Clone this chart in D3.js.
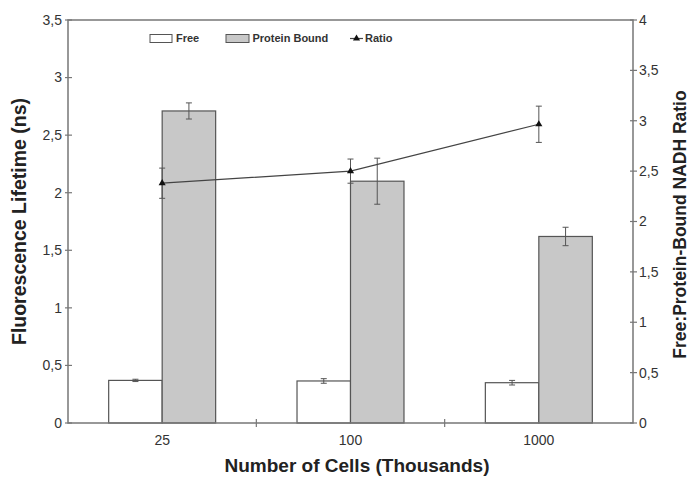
<!DOCTYPE html>
<html>
<head>
<meta charset="utf-8">
<script src="https://cdn.jsdelivr.net/npm/d3@7"></script>
<style>
  body { margin: 0; background: #fff; }
  text { font-family: "Liberation Sans", Arial, sans-serif; }
</style>
</head>
<body>
<svg id="chart"></svg>
<script>
const categories = ["25", "100", "1000"]
const series = ["Free", "Protein Bound"]
const freeValues = [0.37, 0.365, 0.35]
const freeErrors = [0.01, 0.02, 0.02]
const boundValues = [2.71, 2.10, 1.62]
const boundErrors = [0.07, 0.2, 0.08]
const ratioValues = [2.38, 2.50, 2.965]
const ratioErrors = [0.15, 0.12, 0.18]
const leftTicks = [0, 0.5, 1, 1.5, 2, 2.5, 3, 3.5]
const rightTicks = [0, 0.5, 1, 1.5, 2, 2.5, 3, 3.5, 4]

const width = 691
const height = 478
const margin = { top: 20, right: 58, bottom: 55, left: 68 }
const axisColor = "#777"
const markColor = "#555"

const svg = d3.select("#chart").attr("width", width).attr("height", height)

const x = d3.scaleBand().domain(categories).range([margin.left, width - margin.right])
const bw = x.bandwidth()
const xs = d3.scaleBand().domain(series).range([bw * 0.216, bw * 0.784])
const y = d3.scaleLinear().domain([0, 3.5]).range([height - margin.bottom, margin.top])
const y2 = d3.scaleLinear().domain([0, 4]).range([height - margin.bottom, margin.top])

const fmt = v => String(v).replace(".", ",")

// bars
const barData = categories.map((c, i) => [
  { cat: c, key: "Free", v: freeValues[i], e: freeErrors[i], fill: "#fff" },
  { cat: c, key: "Protein Bound", v: boundValues[i], e: boundErrors[i], fill: "#c8c8c8" }
]).flat()

svg.append("g").selectAll("rect")
  .data(barData)
  .join("rect")
  .attr("x", d => x(d.cat) + xs(d.key))
  .attr("y", d => y(d.v))
  .attr("width", xs.bandwidth())
  .attr("height", d => y(0) - y(d.v))
  .attr("fill", d => d.fill)
  .attr("stroke", markColor)
  .attr("stroke-width", 1.2)

// bar error bars
const errG = svg.append("g").attr("stroke", markColor).attr("stroke-width", 1)
barData.forEach(d => {
  const cx = x(d.cat) + xs(d.key) + xs.bandwidth() / 2
  errG.append("line").attr("x1", cx).attr("x2", cx).attr("y1", y(d.v + d.e)).attr("y2", y(d.v - d.e))
  errG.append("line").attr("x1", cx - 3).attr("x2", cx + 3).attr("y1", y(d.v + d.e)).attr("y2", y(d.v + d.e))
  errG.append("line").attr("x1", cx - 3).attr("x2", cx + 3).attr("y1", y(d.v - d.e)).attr("y2", y(d.v - d.e))
})

// ratio line
const ratioData = categories.map((c, i) => ({ cat: c, v: ratioValues[i], e: ratioErrors[i] }))
const cxr = d => x(d.cat) + bw / 2

ratioData.forEach(d => {
  errG.append("line").attr("x1", cxr(d)).attr("x2", cxr(d)).attr("y1", y2(d.v + d.e)).attr("y2", y2(d.v - d.e))
  errG.append("line").attr("x1", cxr(d) - 3).attr("x2", cxr(d) + 3).attr("y1", y2(d.v + d.e)).attr("y2", y2(d.v + d.e))
  errG.append("line").attr("x1", cxr(d) - 3).attr("x2", cxr(d) + 3).attr("y1", y2(d.v - d.e)).attr("y2", y2(d.v - d.e))
})

svg.append("path")
  .datum(ratioData)
  .attr("fill", "none")
  .attr("stroke", "#444")
  .attr("stroke-width", 1.2)
  .attr("d", d3.line().x(cxr).y(d => y2(d.v)))

const tri = d3.symbol().type(d3.symbolTriangle).size(22)
svg.append("g").selectAll("path")
  .data(ratioData)
  .join("path")
  .attr("d", tri)
  .attr("transform", d => `translate(${cxr(d)},${y2(d.v)})`)
  .attr("fill", "#111")

// frame
const x0 = margin.left, x1 = width - margin.right
const yT = margin.top, yB = height - margin.bottom
svg.append("path")
  .attr("d", `M${x0},${yT}H${x1}V${yB}H${x0}Z`)
  .attr("fill", "none")
  .attr("stroke", axisColor)
  .attr("stroke-width", 1.5)

// left axis
const leftAxis = svg.append("g")
leftAxis.selectAll("line").data(leftTicks).join("line")
  .attr("x1", x0 - 3).attr("x2", x0 + 4)
  .attr("y1", d => y(d)).attr("y2", d => y(d))
  .attr("stroke", axisColor).attr("stroke-width", 1.2)
leftAxis.selectAll("text").data(leftTicks).join("text")
  .attr("x", x0 - 6).attr("y", d => y(d)).attr("dy", "0.35em")
  .attr("text-anchor", "end")
  .attr("font-size", 14).attr("fill", "#333")
  .text(fmt)

// right axis
const rightAxis = svg.append("g")
rightAxis.selectAll("line").data(rightTicks).join("line")
  .attr("x1", x1 - 3).attr("x2", x1 + 4)
  .attr("y1", d => y2(d)).attr("y2", d => y2(d))
  .attr("stroke", axisColor).attr("stroke-width", 1.2)
rightAxis.selectAll("text").data(rightTicks).join("text")
  .attr("x", x1 + 6).attr("y", d => y2(d)).attr("dy", "0.35em")
  .attr("text-anchor", "start")
  .attr("font-size", 14).attr("fill", "#333")
  .text(fmt)

// x axis ticks at category boundaries, labels at centres
const bounds = categories.slice(0, -1).map(c => x(c) + bw)
svg.append("g").selectAll("line").data(bounds).join("line")
  .attr("x1", d => d).attr("x2", d => d)
  .attr("y1", yB - 4).attr("y2", yB + 4)
  .attr("stroke", axisColor).attr("stroke-width", 1.2)
svg.append("g").selectAll("text").data(categories).join("text")
  .attr("x", d => x(d) + bw / 2).attr("y", yB + 22)
  .attr("text-anchor", "middle")
  .attr("font-size", 14).attr("fill", "#333")
  .text(d => d)

// axis titles
svg.append("text")
  .attr("x", 357).attr("y", 472)
  .attr("text-anchor", "middle")
  .attr("font-size", 19).attr("font-weight", "bold").attr("fill", "#222")
  .text("Number of Cells (Thousands)")
svg.append("text")
  .attr("transform", `translate(26,${(yT + yB) / 2}) rotate(-90)`)
  .attr("text-anchor", "middle")
  .attr("font-size", 19.5).attr("font-weight", "bold").attr("fill", "#222")
  .text("Fluorescence Lifetime (ns)")
svg.append("text")
  .attr("transform", `translate(686,${(yT + yB) / 2 + 3}) rotate(-90)`)
  .attr("text-anchor", "middle")
  .attr("font-size", 17.5).attr("font-weight", "bold").attr("fill", "#222")
  .text("Free:Protein-Bound NADH Ratio")

// legend
const legend = svg.append("g").attr("font-size", 11).attr("font-weight", "bold").attr("fill", "#333")
legend.append("rect").attr("x", 150).attr("y", 34.5).attr("width", 22).attr("height", 8)
  .attr("fill", "#fff").attr("stroke", markColor)
legend.append("text").attr("x", 176).attr("y", 42).text("Free")
legend.append("rect").attr("x", 226).attr("y", 34.5).attr("width", 23).attr("height", 8)
  .attr("fill", "#c8c8c8").attr("stroke", markColor)
legend.append("text").attr("x", 252.5).attr("y", 42).text("Protein Bound")
legend.append("line").attr("x1", 350).attr("x2", 363).attr("y1", 38.5).attr("y2", 38.5)
  .attr("stroke", "#444").attr("stroke-width", 1.2)
legend.append("path").attr("d", tri).attr("transform", "translate(356.5,38.5)").attr("fill", "#111")
legend.append("text").attr("x", 365).attr("y", 42).text("Ratio")
</script>
</body>
</html>
